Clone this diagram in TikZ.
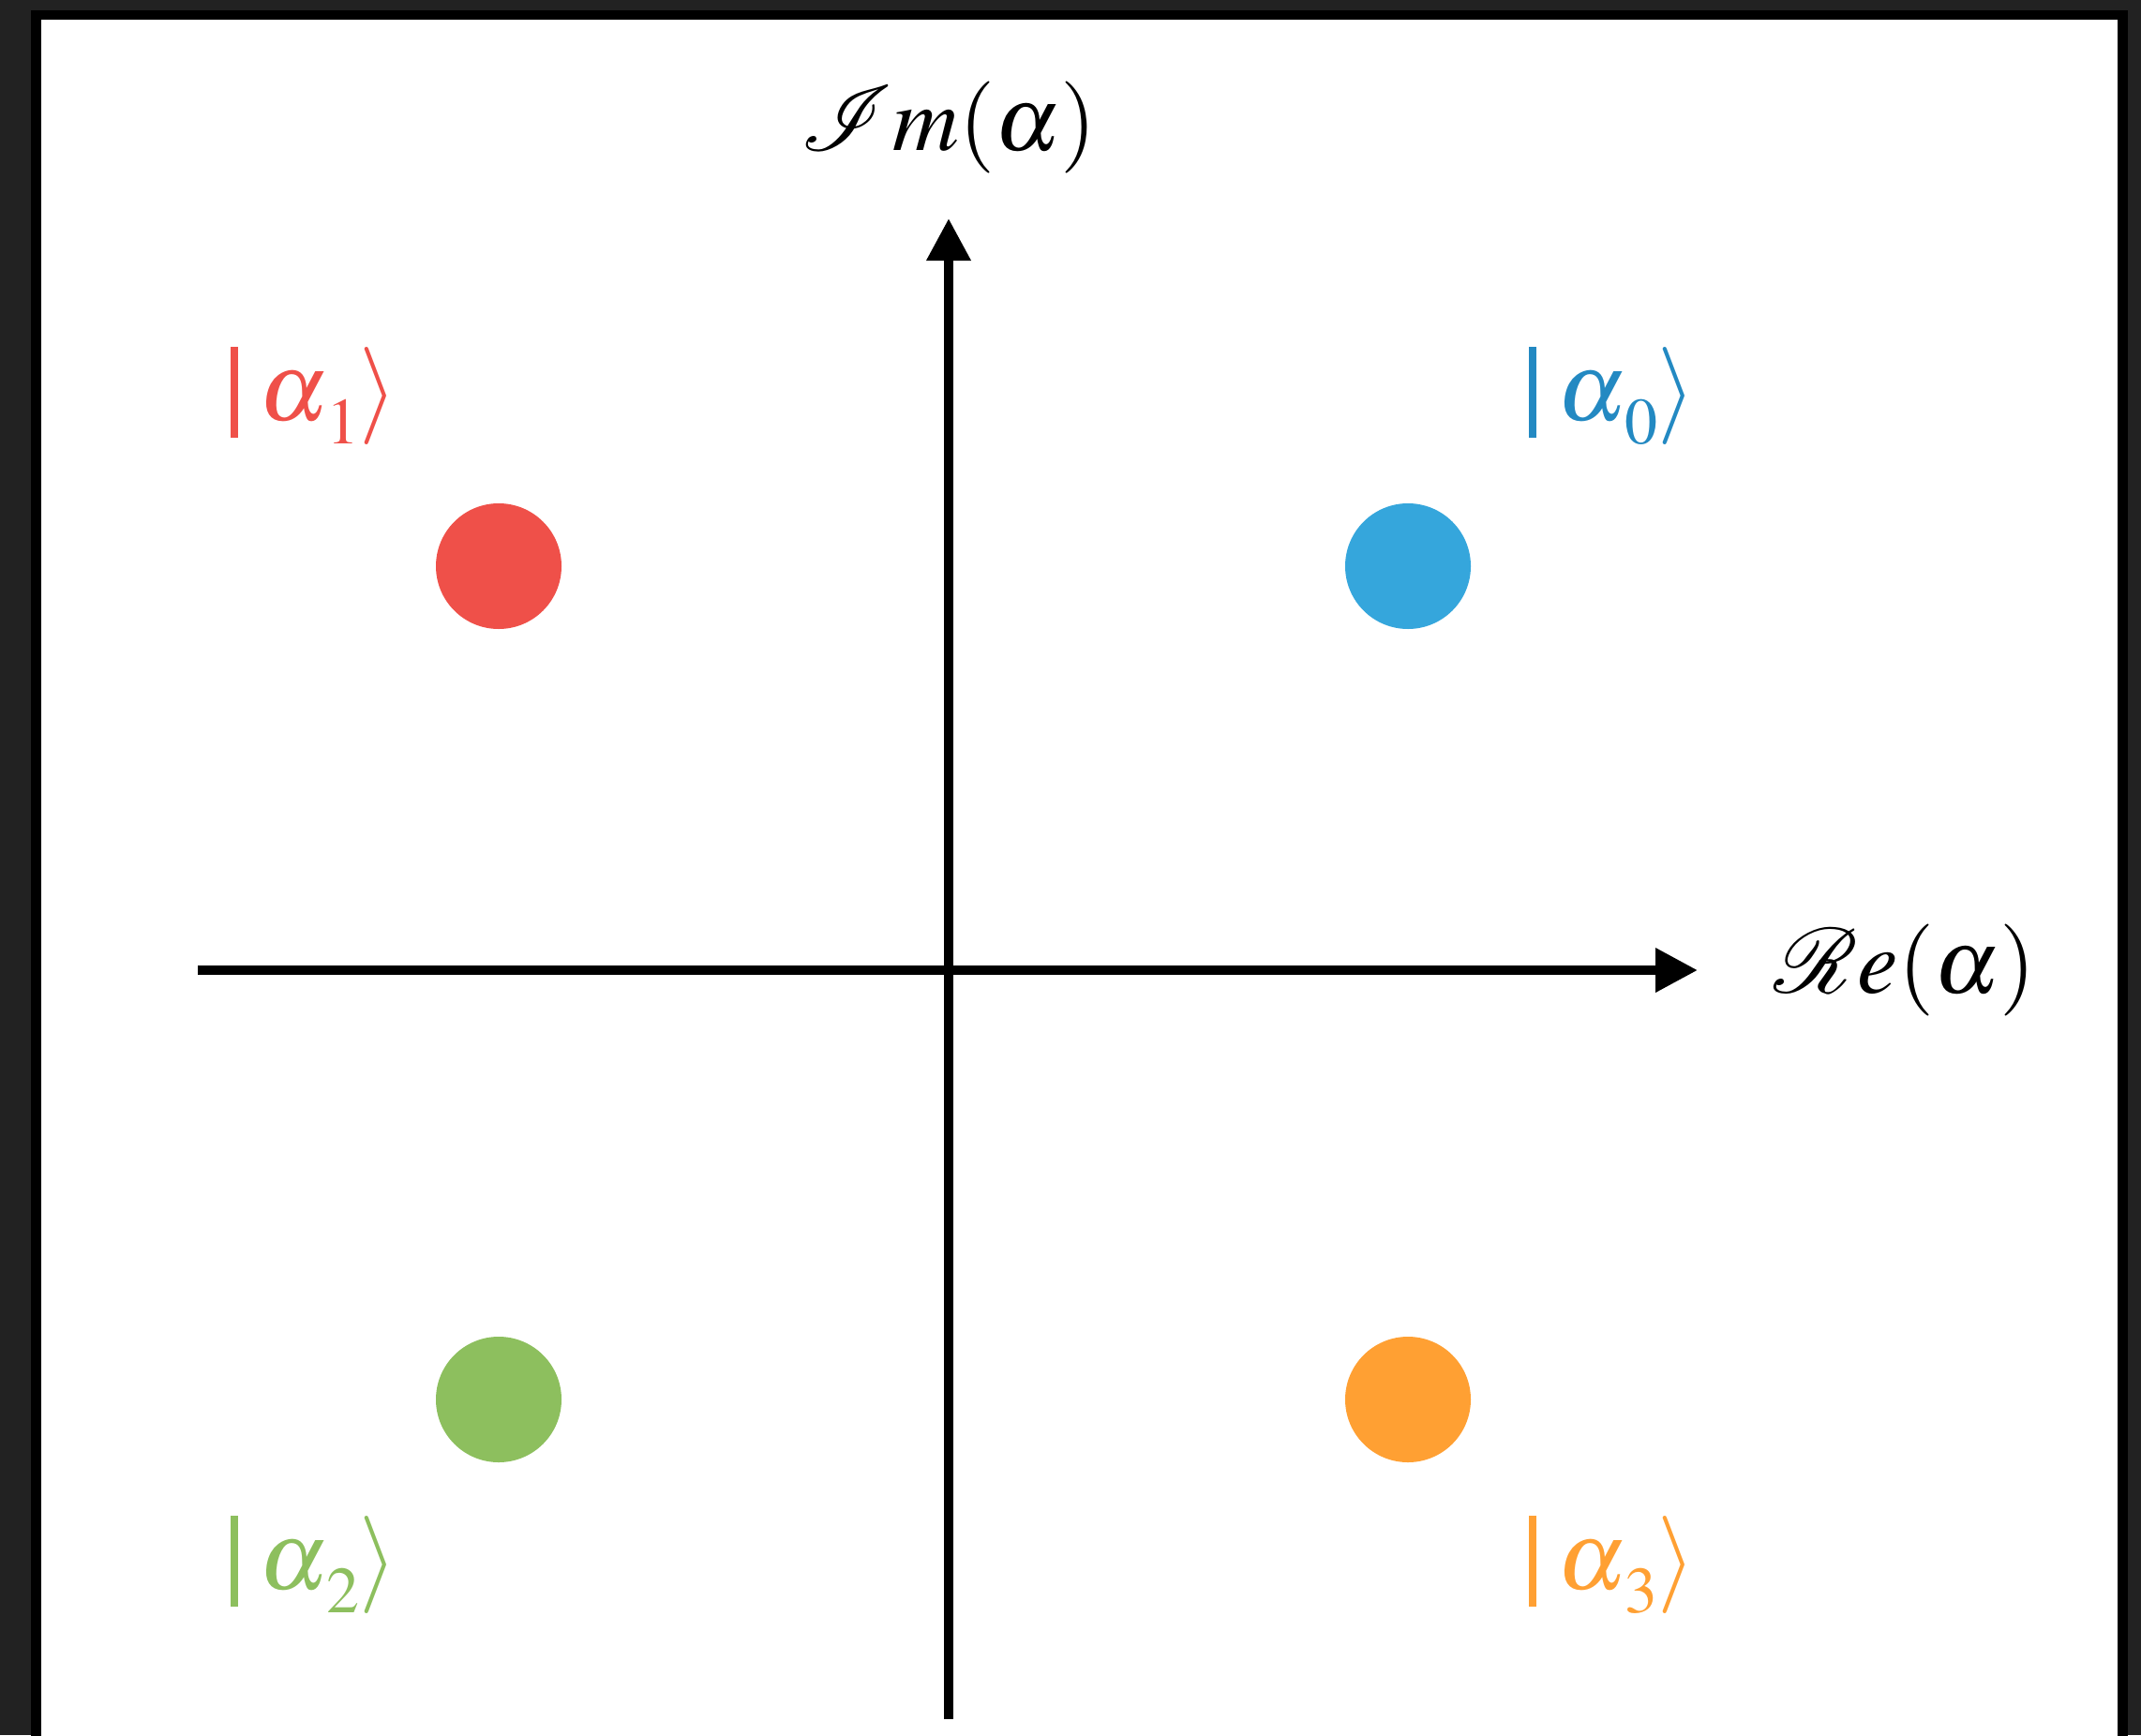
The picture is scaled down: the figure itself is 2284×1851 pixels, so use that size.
\documentclass[tikz,border=0pt]{standalone}
\usepackage{mathptmx}
\usepackage{mathrsfs}
\DeclareFontFamily{U}{rsfs}{\skewchar\font127 }
\DeclareFontShape{U}{rsfs}{m}{n}{<-6> rsfs5 <6-8> rsfs7 <8-> rsfs10}{}
\usetikzlibrary{arrows.meta}
\definecolor{bgdark}{HTML}{222222}
\definecolor{kred}{HTML}{EF5049}
\definecolor{kbluedot}{HTML}{35A6DC}
\definecolor{kbluetxt}{HTML}{2389C2}
\definecolor{kgreen}{HTML}{8DBF5E}
\definecolor{korange}{HTML}{FFA033}
\newcommand{\myket}[1]{\rule[-9.5pt]{4pt}{48.5pt}\hspace{11pt}$\alpha$\hspace{-1pt}\raisebox{-12.5pt}{\fontsize{35}{40}\selectfont$#1$}\hspace{0pt}$\rangle$}
\tikzset{
  axis/.style={line width=5pt, -{Triangle[length=22.5pt,width=22.5pt]}},
  dot/.style={circle, minimum size=67pt, inner sep=0pt, fill=#1},
  ketlabel/.style={text=#1, inner sep=0pt, anchor=base west, font=\fontsize{52}{60}\selectfont},
  axlabel/.style={inner sep=0pt, font=\fontsize{49}{56}\selectfont}
}
\begin{document}
\begin{tikzpicture}[x=0.5pt,y=-0.5pt]
\useasboundingbox (0,0) rectangle (2284,1851);
\fill[bgdark] (0,0) rectangle (2284,1851);
\fill[white] (38.5,16) rectangle (2264.5,1851);
\draw[line width=5.25pt] (38.5,1880) -- (38.5,16) -- (2264.5,16) -- (2264.5,1880);
% axes
\coordinate (xs) at (211,1035);
\coordinate (xe) at (1811,1035);
\coordinate (ys) at (1012,1834);
\coordinate (ye) at (1012,233);
\draw[axis] (xs) -- (xe);
\draw[axis] (ys) -- (ye);
\node[axlabel] (im) at (1012,136) {$\mathscr{I}m(\alpha)$};
\node[axlabel, anchor=west] (re) at (1892,1035) {$\mathscr{R}e(\alpha)$};
% dots
\node[dot=kred] (d1) at (532,604) {};
\node[dot=kbluedot] (d0) at (1502,604) {};
\node[dot=kgreen] (d2) at (532,1493) {};
\node[dot=korange] (d3) at (1502,1493) {};
% kets
\node[ketlabel=kred] (k1) at (246,448) {\myket{1}};
\node[ketlabel=kbluetxt] (k0) at (1631,448) {\myket{0}};
\node[ketlabel=kgreen] (k2) at (246,1695) {\myket{2}};
\node[ketlabel=korange] (k3) at (1631,1695) {\myket{3}};
\end{tikzpicture}
\end{document}
